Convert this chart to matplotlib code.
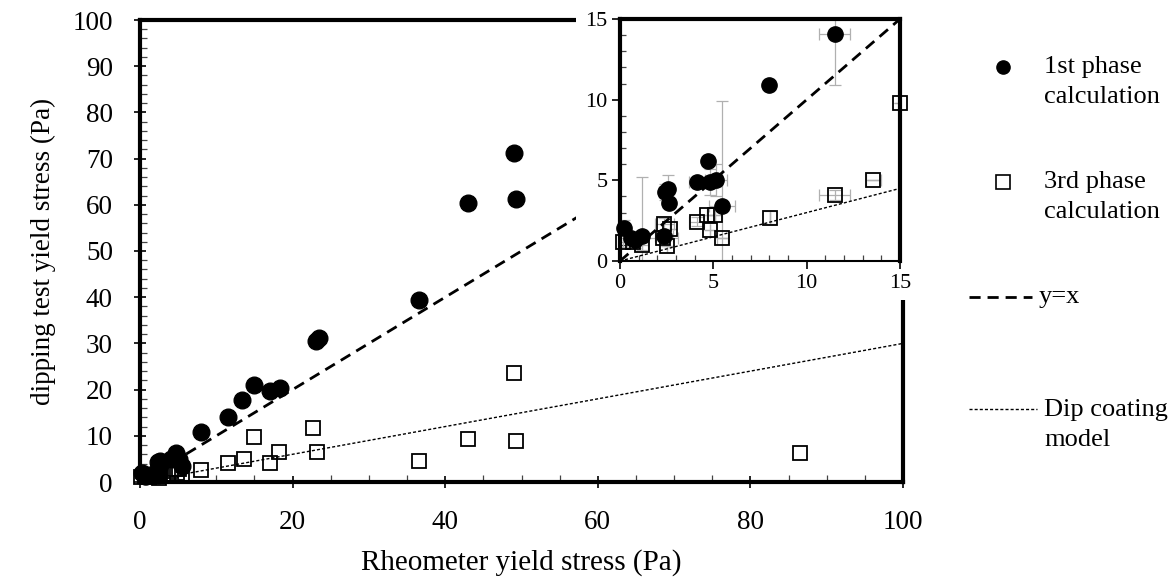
import matplotlib
matplotlib.use('Agg')
import matplotlib.pyplot as plt
from matplotlib.ticker import MultipleLocator
from matplotlib.patches import Rectangle
from matplotlib.lines import Line2D
import numpy as np

plt.rcParams['font.family'] = ['Liberation Serif', 'DejaVu Serif']

# ---- data ----
p1_x = [0.2, 0.6, 0.8, 1.16, 2.35, 2.4, 2.57, 2.64, 4.1, 4.7, 4.8, 5.15, 5.48,
        8.0, 11.5, 13.4, 14.9, 17.0, 18.3, 23.1, 23.4, 36.6, 43.0, 49.0, 49.3]
p1_y = [2.03, 1.4, 1.3, 1.58, 1.58, 4.28, 4.44, 3.62, 4.92, 6.22, 4.92, 5.02, 3.41,
        10.9, 14.1, 17.8, 21.0, 19.6, 20.3, 30.6, 31.1, 39.3, 60.4, 71.2, 61.3]
p1_xerr = [0.2, 0, 0.3, 0.3, 0.5, 0.3, 0.3, 0, 0.4, 0, 0.4, 0.6, 0.7,
           0, 0.82, 0, 0, 0, 0, 0, 0, 0, 0, 0, 0]
p1_yerr = [0.5, 0, 0.5, 3.6, 0.3, 0.5, 0.9, 0, 0.3, 0, 0.8, 1.0, 6.5,
           0, 3.2, 0, 0, 0, 0, 0, 0, 0, 0, 0, 0]

p3_x = [0.18, 0.7, 1.2, 2.32, 2.37, 2.68, 2.5, 4.1, 4.64, 5.1, 4.8, 5.48,
        8.03, 11.5, 13.57, 15.0, 17.0, 18.2, 22.7, 23.2, 36.6, 43.0, 49.0, 49.3, 86.5]
p3_y = [1.15, 1.2, 0.99, 1.4, 2.27, 1.98, 0.95, 2.44, 2.85, 2.87, 1.9, 1.45,
        2.69, 4.07, 5.02, 9.78, 4.05, 6.6, 11.6, 6.4, 4.55, 9.25, 23.7, 8.95, 6.3]
p3_xerr = [0.2, 0, 0.3, 0.8, 0.5, 0, 0, 0.4, 0, 0, 0, 0.3,
           0, 0.82, 0.4, 0, 0, 0, 0, 0, 0, 0, 0, 0, 0]
p3_yerr = [0.3, 0, 0.3, 0, 0.4, 0, 0, 0.3, 0, 0, 0, 0,
           0.4, 0.3, 0, 0, 0, 0, 0, 0, 0, 0, 0, 0, 0]

line_x = [0, 100]
model_slope = 0.3

W, H = 1175, 577
fig = plt.figure(figsize=(11.75, 5.77), dpi=100)


def fx(px):
    return px / W


def fy(py):
    return 1 - py / H


# ---- main axes ----
ax = fig.add_axes([fx(140), fy(482), fx(903) - fx(140), fy(20) - fy(482)])
ax.set_zorder(1)
lx = np.array(line_x, dtype=float)
ax.plot(lx, lx, color='k', lw=2, dashes=(4, 2.5), zorder=3)
ax.plot(lx, model_slope * lx, color='k', lw=1.0, dashes=(2.2, 1.5), zorder=3)
ax.plot(p1_x, p1_y, 'o', color='k', ms=12, clip_on=False, zorder=5)
ax.plot(p3_x, p3_y, 's', mfc='none', mec='k', mew=1.3, ms=10.5, clip_on=False, zorder=6)
ax.set_xlim(0, 100)
ax.set_ylim(0, 100)
ax.xaxis.set_major_locator(MultipleLocator(20))
ax.xaxis.set_minor_locator(MultipleLocator(5))
ax.yaxis.set_major_locator(MultipleLocator(10))
ax.yaxis.set_minor_locator(MultipleLocator(2))
ax.tick_params(which='major', direction='inout', length=9, width=1.2, labelsize=19.5)
ax.tick_params(axis='y', which='major', pad=15)
ax.tick_params(axis='x', which='major', pad=16)
ax.tick_params(which='minor', direction='in', length=5, width=0.9, color='#444')
for s in ax.spines.values():
    s.set_linewidth(3)
ax.set_xlabel('Rheometer yield stress (Pa)', fontsize=21, labelpad=10)
ax.set_ylabel('dipping test yield stress (Pa)', fontsize=19.5, labelpad=12)

# white backing for inset
rect = Rectangle((fx(576), fy(300)), fx(915) - fx(576), fy(8) - fy(300),
                 transform=fig.transFigure, facecolor='white', edgecolor='none', zorder=2)
fig.add_artist(rect)

# ---- inset ----
axi = fig.add_axes([fx(620), fy(261), fx(900) - fx(620), fy(19) - fy(261)])
axi.set_zorder(3)
axi.plot(lx, lx, color='k', lw=2, dashes=(4, 2.5), zorder=3)
axi.plot(lx, model_slope * lx, color='k', lw=1.0, dashes=(2.2, 1.5), zorder=3)
axi.errorbar(p1_x, p1_y, xerr=p1_xerr, yerr=p1_yerr, fmt='none', ecolor='#b0b0b0',
             elinewidth=0.9, capsize=4, capthick=0.9, zorder=2)
axi.errorbar(p3_x, p3_y, xerr=p3_xerr, yerr=p3_yerr, fmt='none', ecolor='#b0b0b0',
             elinewidth=0.9, capsize=4, capthick=0.9, zorder=2)
p1x, p1y = np.array(p1_x), np.array(p1_y)
p3x, p3y = np.array(p3_x), np.array(p3_y)
m1 = (p1x <= 15) & (p1y <= 15)
m3 = (p3x <= 15) & (p3y <= 15)
axi.plot(p1x[m1], p1y[m1], 'o', color='k', ms=11, clip_on=False, zorder=5)
axi.plot(p3x[m3], p3y[m3], 's', mfc='none', mec='k', mew=1.3, ms=10, clip_on=False, zorder=6)
axi.set_xlim(0, 15)
axi.set_ylim(0, 15)
axi.xaxis.set_major_locator(MultipleLocator(5))
axi.xaxis.set_minor_locator(MultipleLocator(1))
axi.yaxis.set_major_locator(MultipleLocator(5))
axi.yaxis.set_minor_locator(MultipleLocator(1))
axi.tick_params(which='major', direction='out', length=6, width=1.2, labelsize=16, pad=3)
axi.tick_params(which='minor', direction='in', length=4, width=0.9, color='#444')
for k in ['left', 'top', 'right']:
    axi.spines[k].set_linewidth(3)
axi.spines['bottom'].set_linewidth(1.5)

# ---- legend (manual) ----
fs = 19
fig.add_artist(Line2D([fx(1003)], [fy(67)], marker='o', color='k', ms=9.5, lw=0))
fig.text(fx(1044), fy(67), '1st phase', fontsize=fs, va='center')
fig.text(fx(1044), fy(97), 'calculation', fontsize=fs, va='center')
fig.add_artist(Line2D([fx(1003)], [fy(182)], marker='s', mfc='none', mec='k', mew=1.2, ms=9.5, lw=0))
fig.text(fx(1044), fy(182), '3rd phase', fontsize=fs, va='center')
fig.text(fx(1044), fy(212), 'calculation', fontsize=fs, va='center')
fig.add_artist(Line2D([fx(969), fx(1032)], [fy(297), fy(297)], color='k', lw=2, dashes=(4, 2.5)))
fig.text(fx(1039), fy(297), 'y=x', fontsize=fs, va='center')
fig.add_artist(Line2D([fx(969), fx(1037)], [fy(409), fy(409)], color='k', lw=1.0, dashes=(2.2, 1.5)))
fig.text(fx(1044), fy(410), 'Dip coating', fontsize=fs, va='center')
fig.text(fx(1044), fy(440), 'model', fontsize=fs, va='center')

fig.savefig('out.png', dpi=100)
